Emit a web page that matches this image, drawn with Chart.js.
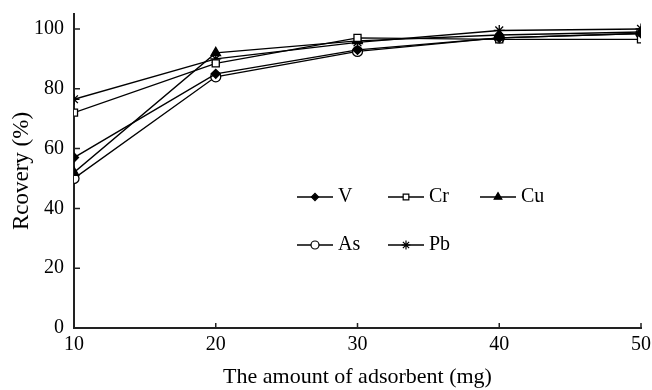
<!DOCTYPE html>
<html>
<head>
<meta charset="utf-8">
<script src="https://cdn.jsdelivr.net/npm/chart.js@4.4.1/dist/chart.umd.min.js"></script>
<style>
  html, body { margin: 0; padding: 0; background: #fff; }
  #wrap { width: 652px; height: 390px; }
</style>
</head>
<body>
<div id="wrap"><canvas id="chart" width="652" height="390"></canvas></div>
<script>
const amounts = [10, 20, 30, 40, 50];
const vData = [57, 85, 93, 97, 98.5];
const crData = [72, 88.5, 97, 96.5, 96.5];
const cuData = [52, 92, 96, 98, 99];
const asData = [50, 84, 92.5, 97, 98.5];
const pbData = [76.5, 90, 95.5, 99.5, 100];
const yTicks = [0, 20, 40, 60, 80, 100];
const xTicks = [10, 20, 30, 40, 50];

const serif = "'Liberation Serif', 'DejaVu Serif', serif";

function toPoints(values) {
    return amounts.map((x, i) => ({ x: x, y: values[i] }));
}

function makeSet(label, values, style, filled, radius) {
    return {
        label: label,
        data: toPoints(values),
        borderColor: '#000',
        borderWidth: 1.4,
        backgroundColor: filled ? '#000' : '#fff',
        pointBackgroundColor: filled ? '#000' : '#fff',
        pointBorderColor: '#000',
        pointBorderWidth: 1.3,
        pointStyle: style,
        pointRadius: radius,
        tension: 0,
        fill: false
    };
}

// legend drawn inside the plot, two rows
const legendSlots = [
    { x: 297, y: 197 }, { x: 388, y: 197 }, { x: 480, y: 197 },
    { x: 297, y: 245 }, { x: 388, y: 245 }
];

const insideLegend = {
    id: 'insideLegend',
    afterDraw(chart) {
        const ctx = chart.ctx;
        ctx.save();
        chart.data.datasets.forEach((ds, i) => {
            const s = legendSlots[i];
            ctx.strokeStyle = '#000';
            ctx.lineWidth = 1.4;
            ctx.beginPath();
            ctx.moveTo(s.x, s.y);
            ctx.lineTo(s.x + 36, s.y);
            ctx.stroke();
            ctx.fillStyle = ds.pointBackgroundColor;
            ctx.strokeStyle = '#000';
            ctx.lineWidth = 1.2;
            Chart.helpers.drawPoint(ctx, {
                pointStyle: ds.pointStyle,
                radius: ds.pointRadius * 0.8,
                borderWidth: 1.2,
                rotation: 0
            }, s.x + 18, s.y);
            ctx.fillStyle = '#000';
            ctx.font = '20px ' + serif;
            ctx.textBaseline = 'middle';
            ctx.textAlign = 'left';
            ctx.fillText(ds.label, s.x + 41, s.y);
        });
        ctx.restore();
    }
};

// short inward tick marks on both axes
const inwardTicks = {
    id: 'inwardTicks',
    afterDraw(chart) {
        const ctx = chart.ctx;
        const xs = chart.scales.x;
        const ys = chart.scales.y;
        ctx.save();
        ctx.strokeStyle = '#222';
        ctx.lineWidth = 1.5;
        ctx.beginPath();
        yTicks.forEach(v => {
            const py = ys.getPixelForValue(v);
            ctx.moveTo(xs.left, py);
            ctx.lineTo(xs.left + 6, py);
        });
        xTicks.forEach(v => {
            const px = xs.getPixelForValue(v);
            ctx.moveTo(px, ys.bottom);
            ctx.lineTo(px, ys.bottom - 5);
        });
        ctx.stroke();
        ctx.restore();
    }
};

new Chart(document.getElementById('chart'), {
    type: 'line',
    data: {
        datasets: [
            makeSet('V', vData, 'rectRot', true, 4.5),
            makeSet('Cr', crData, 'rect', false, 5),
            makeSet('Cu', cuData, 'triangle', true, 5.5),
            makeSet('As', asData, 'circle', false, 5),
            makeSet('Pb', pbData, 'star', false, 5.5)
        ]
    },
    options: {
        responsive: false,
        animation: false,
        layout: { padding: { top: 14, right: 11, left: 0, bottom: 0 } },
        plugins: {
            legend: { display: false },
            tooltip: { enabled: false }
        },
        scales: {
            x: {
                type: 'linear',
                min: 10,
                max: 50,
                afterBuildTicks: (scale) => { scale.ticks = xTicks.map(v => ({ value: v })); },
                afterFit: (scale) => {
                    scale.height = 62;
                    scale.paddingLeft = 0;
                    scale.paddingRight = 0;
                },
                ticks: { color: '#000', font: { family: serif, size: 20 }, padding: 5, maxRotation: 0 },
                grid: { display: true, drawOnChartArea: false, drawTicks: false },
                border: { display: true, color: '#222', width: 2 },
                title: {
                    display: true,
                    text: 'The amount of adsorbent (mg)',
                    color: '#000',
                    font: { family: serif, size: 22 },
                    padding: { top: 4, bottom: 0 }
                }
            },
            y: {
                min: 0,
                max: 105,
                afterBuildTicks: (scale) => { scale.ticks = yTicks.map(v => ({ value: v })); },
                afterFit: (scale) => {
                    scale.width = 74;
                    scale.paddingTop = 0;
                    scale.paddingBottom = 0;
                },
                ticks: { color: '#000', font: { family: serif, size: 20 }, padding: 10 },
                grid: { display: true, drawOnChartArea: false, drawTicks: false },
                border: { display: true, color: '#222', width: 2 },
                title: {
                    display: true,
                    text: 'Rcovery (%)',
                    color: '#000',
                    font: { family: serif, size: 23 },
                    padding: { top: 8, bottom: 0 }
                }
            }
        }
    },
    plugins: [insideLegend, inwardTicks]
});
</script>
</body>
</html>
